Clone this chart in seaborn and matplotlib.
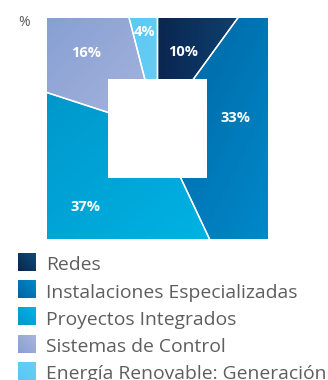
import numpy as np
import matplotlib
matplotlib.use("Agg")
import matplotlib.pyplot as plt
import seaborn as sns
from matplotlib.patches import Rectangle

# Sales breakdown by business segment (%)
segments = ["Redes", "Instalaciones Especializadas", "Proyectos Integrados",
            "Sistemas de Control", "Energía Renovable: Generación"]
shares = [10, 33, 37, 16, 4]
unit_label = "%"

# two-stop gradient for each segment
color_start = ["#0a2550", "#0063a0", "#0095c9", "#86a0d3", "#5ac7f2"]
color_end = ["#0f4b7a", "#0089ca", "#00b5e6", "#aab5dd", "#68cff5"]
grad_kind = ["h", "d", "d", "d", "d"]

# label placement: distance from centre (fraction of half-side) and angle nudge
label_r = [0.727, 0.712, 0.968, 0.941, 0.884]
label_nudge = [-0.7, 13.4, -1.0, 0.5, 0.6]
hole = 0.448

sns.set_theme(style="white")
plt.rcParams["font.family"] = ["Open Sans", "DejaVu Sans"]

W, H = 328, 380
fig = plt.figure(figsize=(W / 100, H / 100), dpi=100)


def px_axes(x0, y0, x1, y1, **kw):
    return fig.add_axes([x0 / W, 1 - y1 / H, (x1 - x0) / W, (y1 - y0) / H], **kw)


cmaps = [sns.blend_palette([a, b], as_cmap=True) for a, b in zip(color_start, color_end)]


def gradient(kind, n=200):
    xs = np.linspace(0, 1, n)
    X, Y = np.meshgrid(xs, xs)
    if kind == "h":
        return X
    return (X + (1 - Y)) / 2  # top-left -> bottom-right


# ---- square "pie" ----
ax = px_axes(47, 18, 268, 239)
wedges, _ = ax.pie(shares, radius=1.8, startangle=90, counterclock=False,
                   colors=["none"] * len(shares),
                   wedgeprops=dict(edgecolor="white", linewidth=1.0, zorder=3))
for w, cm, kind in zip(wedges, cmaps, grad_kind):
    w.set_clip_on(True)  # keep the oversized wedges inside the square
    v = np.clip(w.get_path().vertices, -1, 1)
    x0, x1 = v[:, 0].min(), v[:, 0].max()
    y0, y1 = v[:, 1].min(), v[:, 1].max()
    im = ax.imshow(gradient(kind), cmap=cm, extent=[x0, x1, y0, y1], origin="lower",
                   interpolation="bilinear", aspect="auto", zorder=1)
    im.set_clip_path(w)

ax.add_patch(Rectangle((-hole, -hole), 2 * hole, 2 * hole, facecolor="white",
                       edgecolor="none", zorder=5))

for w, val, r, nd in zip(wedges, shares, label_r, label_nudge):
    ang = np.deg2rad((w.theta1 + w.theta2) / 2 + nd)
    ax.text(r * np.cos(ang), r * np.sin(ang), f"{val}%", color="white",
            fontsize=10.5, fontweight="bold", ha="center", va="center", zorder=6)

ax.set_xlim(-1, 1)
ax.set_ylim(-1, 1)
ax.set_aspect("auto")
ax.axis("off")

# ---- unit label and legend ----
lax = fig.add_axes([0, 0, 1, 1], zorder=-1)
lax.set_xlim(0, W)
lax.set_ylim(H, 0)
lax.axis("off")
lax.text(24.5, 23, unit_label, color="#5a5a5a", fontsize=10, ha="center", va="center")

sq = 17.7
for i, (name, cm) in enumerate(zip(segments, cmaps)):
    top = 253.3 + 27.2 * i
    lax.imshow(gradient("d"), cmap=cm, extent=[18.3, 18.3 + sq, top + sq, top],
               interpolation="bilinear", aspect="auto", zorder=1)
    lax.text(46.5, top + sq - 0.6, name, color="#5e5e5e", fontsize=13.9,
             ha="left", va="baseline")
lax.set_xlim(0, W)
lax.set_ylim(H, 0)

fig.savefig("out.png", dpi=100, facecolor="white")
